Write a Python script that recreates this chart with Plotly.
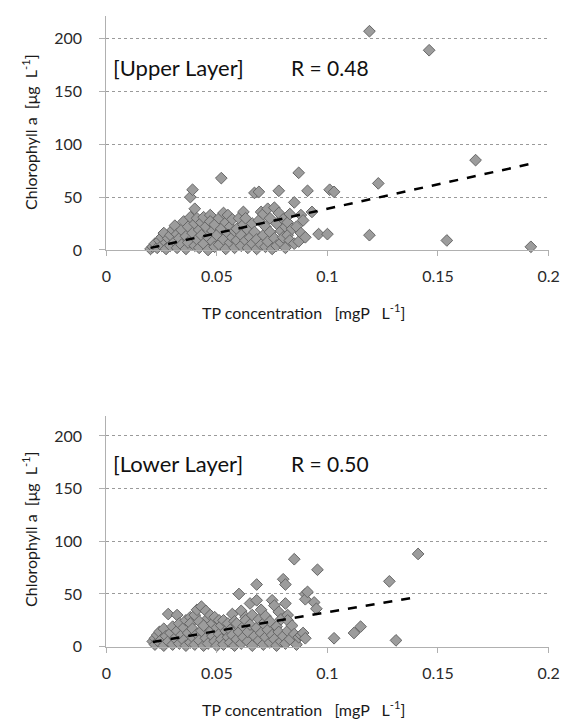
import plotly.graph_objects as go

# ---------------- data ----------------
upper_tp = [
    0.020, 0.021, 0.022, 0.023, 0.024, 0.025, 0.025,
    0.026, 0.027, 0.027, 0.028, 0.029, 0.029, 0.030,
    0.031, 0.031, 0.032, 0.032, 0.033, 0.034, 0.034, 0.035,
    0.036, 0.036, 0.037, 0.037, 0.038, 0.039, 0.038, 0.039, 0.040, 0.040, 0.040,
    0.041, 0.041, 0.042, 0.042, 0.043, 0.043, 0.044, 0.044, 0.045,
    0.046, 0.046, 0.047, 0.047, 0.048, 0.048, 0.049, 0.049, 0.050,
    0.051, 0.051, 0.052, 0.052, 0.053, 0.053, 0.054, 0.054, 0.055, 0.055,
    0.056, 0.056, 0.057, 0.057, 0.058, 0.058, 0.059, 0.059, 0.060,
    0.061, 0.061, 0.062, 0.062, 0.063, 0.063, 0.064, 0.064, 0.065,
    0.066, 0.066, 0.067, 0.067, 0.068, 0.068, 0.069, 0.069, 0.070, 0.070,
    0.071, 0.071, 0.072, 0.072, 0.073, 0.073, 0.074, 0.074, 0.075,
    0.076, 0.076, 0.077, 0.077, 0.078, 0.078, 0.079, 0.079, 0.080, 0.080,
    0.081, 0.081, 0.082, 0.082, 0.083, 0.083, 0.084, 0.085, 0.085,
    0.086, 0.087, 0.087, 0.088, 0.088, 0.089, 0.090,
    0.091, 0.093, 0.096, 0.100, 0.101, 0.103, 0.119, 0.119, 0.123, 0.146, 0.154, 0.167, 0.192,
]
upper_chla = [
    1, 3, 6, 2, 9, 4, 12,
    16, 7, 1, 11, 4, 14, 19,
    23, 8, 2, 15, 11, 5, 19, 27,
    1, 13, 22, 7, 50, 57, 31, 16, 39, 4, 25,
    10, 30, 2, 19, 14, 26, 6, 31, 22,
    0, 12, 33, 27, 8, 18, 3, 24, 14,
    30, 5, 68, 20, 10, 35, 1, 26, 16, 33,
    7, 22, 12, 29, 2, 18, 9, 20, 30,
    4, 14, 36, 24, 30, 9, 2, 19, 12,
    25, 6, 54, 17, 1, 10, 55, 28, 36, 5,
    34, 14, 3, 22, 39, 8, 17, 30, 1,
    40, 11, 25, 4, 56, 35, 18, 7, 29, 12,
    2, 22, 26, 14, 9, 34, 20, 6, 45,
    22, 73, 8, 33, 16, 28, 12,
    56, 36, 15, 15, 57, 55, 207, 14, 63, 189, 9, 85, 3,
]

lower_tp = [
    0.021, 0.022, 0.022, 0.023, 0.024, 0.024, 0.025,
    0.026, 0.026, 0.027, 0.028, 0.028, 0.029, 0.030, 0.030,
    0.031, 0.032, 0.032, 0.033, 0.033, 0.034, 0.035, 0.035,
    0.036, 0.036, 0.037, 0.038, 0.038, 0.038, 0.039, 0.039, 0.040, 0.040,
    0.041, 0.041, 0.042, 0.042, 0.043, 0.043, 0.044, 0.044, 0.045, 0.045,
    0.046, 0.046, 0.047, 0.047, 0.048, 0.048, 0.049, 0.049, 0.050, 0.050,
    0.051, 0.051, 0.052, 0.052, 0.053, 0.053, 0.054, 0.055, 0.055,
    0.056, 0.056, 0.057, 0.057, 0.058, 0.058, 0.059, 0.059, 0.060, 0.060,
    0.061, 0.061, 0.062, 0.062, 0.063, 0.063, 0.064, 0.064, 0.065, 0.065,
    0.066, 0.066, 0.067, 0.068, 0.068, 0.068, 0.069, 0.069, 0.070, 0.070,
    0.071, 0.071, 0.072, 0.072, 0.073, 0.074, 0.074, 0.075, 0.075,
    0.076, 0.076, 0.077, 0.077, 0.078, 0.078, 0.079, 0.079, 0.080, 0.080,
    0.081, 0.081, 0.081, 0.082, 0.082, 0.082, 0.083, 0.084, 0.085, 0.085,
    0.086, 0.087, 0.088, 0.089, 0.090, 0.090, 0.090,
    0.091, 0.094, 0.095, 0.0955, 0.103, 0.112, 0.115, 0.128, 0.131, 0.141,
]
lower_chla = [
    5, 8, 2, 11, 4, 14, 7,
    1, 17, 10, 31, 5, 13, 19, 2,
    8, 30, 15, 3, 22, 11, 6, 18,
    1, 25, 13, 28, 4, 22, 9, 17, 30, 2,
    12, 35, 6, 24, 38, 15, 1, 20, 34, 8,
    27, 3, 14, 30, 10, 22, 28, 5, 18, 1,
    25, 12, 7, 20, 25, 2, 15, 9, 22,
    4, 16, 31, 11, 1, 24, 22, 7, 50, 14,
    34, 3, 19, 9, 28, 25, 5, 14, 41, 21,
    1, 30, 10, 44, 59, 18, 6, 26, 35, 13,
    2, 22, 29, 9, 16, 4, 24, 44, 11,
    39, 7, 19, 1, 33, 14, 26, 5, 64, 10,
    59, 41, 3, 30, 25, 15, 7, 20, 12, 83,
    2, 9, 11, 13, 8, 50, 45,
    52, 42, 36, 73, 8, 13, 19, 62, 6, 88,
]

upper_trend_tp = [0.020, 0.193]
upper_trend_chla = [2, 82]
lower_trend_tp = [0.021, 0.140]
lower_trend_chla = [4.5, 47]

x_ticks = [0, 0.05, 0.1, 0.15, 0.2]
x_tick_text = ["0", "0.05", "0.1", "0.15", "0.2"]
y_ticks = [0, 50, 100, 150, 200]
y_tick_text = ["0", "50", "100", "150", "200"]

panel_labels = ["[Upper Layer]", "[Lower Layer]"]
r_labels = ["R = 0.48", "R = 0.50"]

# ---------------- figure ----------------
W, H = 571, 727
FONT = "Lato"
marker = dict(symbol="diamond", size=9, color="#9c9c9c",
              line=dict(color="#666666", width=1))

fig = go.Figure()
fig.add_trace(go.Scatter(x=upper_tp, y=upper_chla, mode="markers", marker=marker,
                         xaxis="x", yaxis="y", cliponaxis=False, showlegend=False))
fig.add_trace(go.Scatter(x=upper_trend_tp, y=upper_trend_chla, mode="lines",
                         line=dict(color="black", width=2.5, dash="dash"),
                         xaxis="x", yaxis="y", showlegend=False))
fig.add_trace(go.Scatter(x=lower_tp, y=lower_chla, mode="markers", marker=marker,
                         xaxis="x2", yaxis="y2", cliponaxis=False, showlegend=False))
fig.add_trace(go.Scatter(x=lower_trend_tp, y=lower_trend_chla, mode="lines",
                         line=dict(color="black", width=2.5, dash="dash"),
                         xaxis="x2", yaxis="y2", showlegend=False))

xdom = [96 / W, 551 / W]
common_x = dict(range=[0, 0.2], tickvals=x_ticks, ticktext=x_tick_text,
                showgrid=False, zeroline=False, showline=True, linecolor="#b0b0b0",
                ticks="outside", ticklen=5, tickcolor="#b0b0b0",
                tickfont=dict(family=FONT, size=16, color="#2a2a2a"),
                ticklabelstandoff=7, domain=xdom, fixedrange=True)
common_y = dict(tickvals=y_ticks, ticktext=y_tick_text,
                showgrid=True, gridcolor="#9a9a9a", griddash="dot", gridwidth=1,
                zeroline=False, showline=True, linecolor="#b0b0b0",
                ticks="outside", ticklen=6, tickcolor="#b0b0b0",
                tickfont=dict(family=FONT, size=16, color="#2a2a2a"),
                ticklabelstandoff=14, fixedrange=True)

fig.update_layout(
    width=W, height=H, autosize=False,
    margin=dict(l=0, r=0, t=0, b=0),
    paper_bgcolor="white", plot_bgcolor="white",
    xaxis=dict(**common_x, anchor="y"),
    yaxis=dict(**common_y, range=[0, 221.5], domain=[1 - 245 / H, 1 - 8 / H], anchor="x"),
    xaxis2=dict(**common_x, anchor="y2"),
    yaxis2=dict(**common_y, range=[0, 219], domain=[1 - 646.7 / H, 1 - 413 / H], anchor="x2"),
)

def px(x):
    return x / W

def py(y):
    return 1 - y / H

ytitle = "Chlorophyll a\u00a0\u00a0[μg\u00a0\u00a0L<sup>-1</sup>]"
xtitle = "TP concentration\u00a0\u00a0\u00a0[mgP\u00a0\u00a0\u00a0L<sup>-1</sup>]"
anns = []
for i, (ymid, xt_y, lab_y) in enumerate([(126, 307, 60), (528, 709, 461)]):
    anns.append(dict(x=px(17), y=py(ymid), xref="paper", yref="paper", text=ytitle,
                     textangle=-90, showarrow=False, xanchor="center", yanchor="middle",
                     font=dict(family=FONT, size=16, color="#1a1a1a")))
    anns.append(dict(x=px(299), y=py(xt_y), xref="paper", yref="paper", text=xtitle,
                     showarrow=False, xanchor="center", yanchor="middle",
                     font=dict(family=FONT, size=16, color="#1a1a1a")))
    anns.append(dict(x=px(101), y=py(lab_y), xref="paper", yref="paper", text=panel_labels[i],
                     showarrow=False, xanchor="left", yanchor="middle",
                     font=dict(family=FONT, size=22, color="#111")))
    anns.append(dict(x=px(284), y=py(lab_y), xref="paper", yref="paper", text=r_labels[i],
                     showarrow=False, xanchor="left", yanchor="middle",
                     font=dict(family=FONT, size=21, color="#111")))
fig.update_layout(annotations=anns)

fig.write_html("out.html")
